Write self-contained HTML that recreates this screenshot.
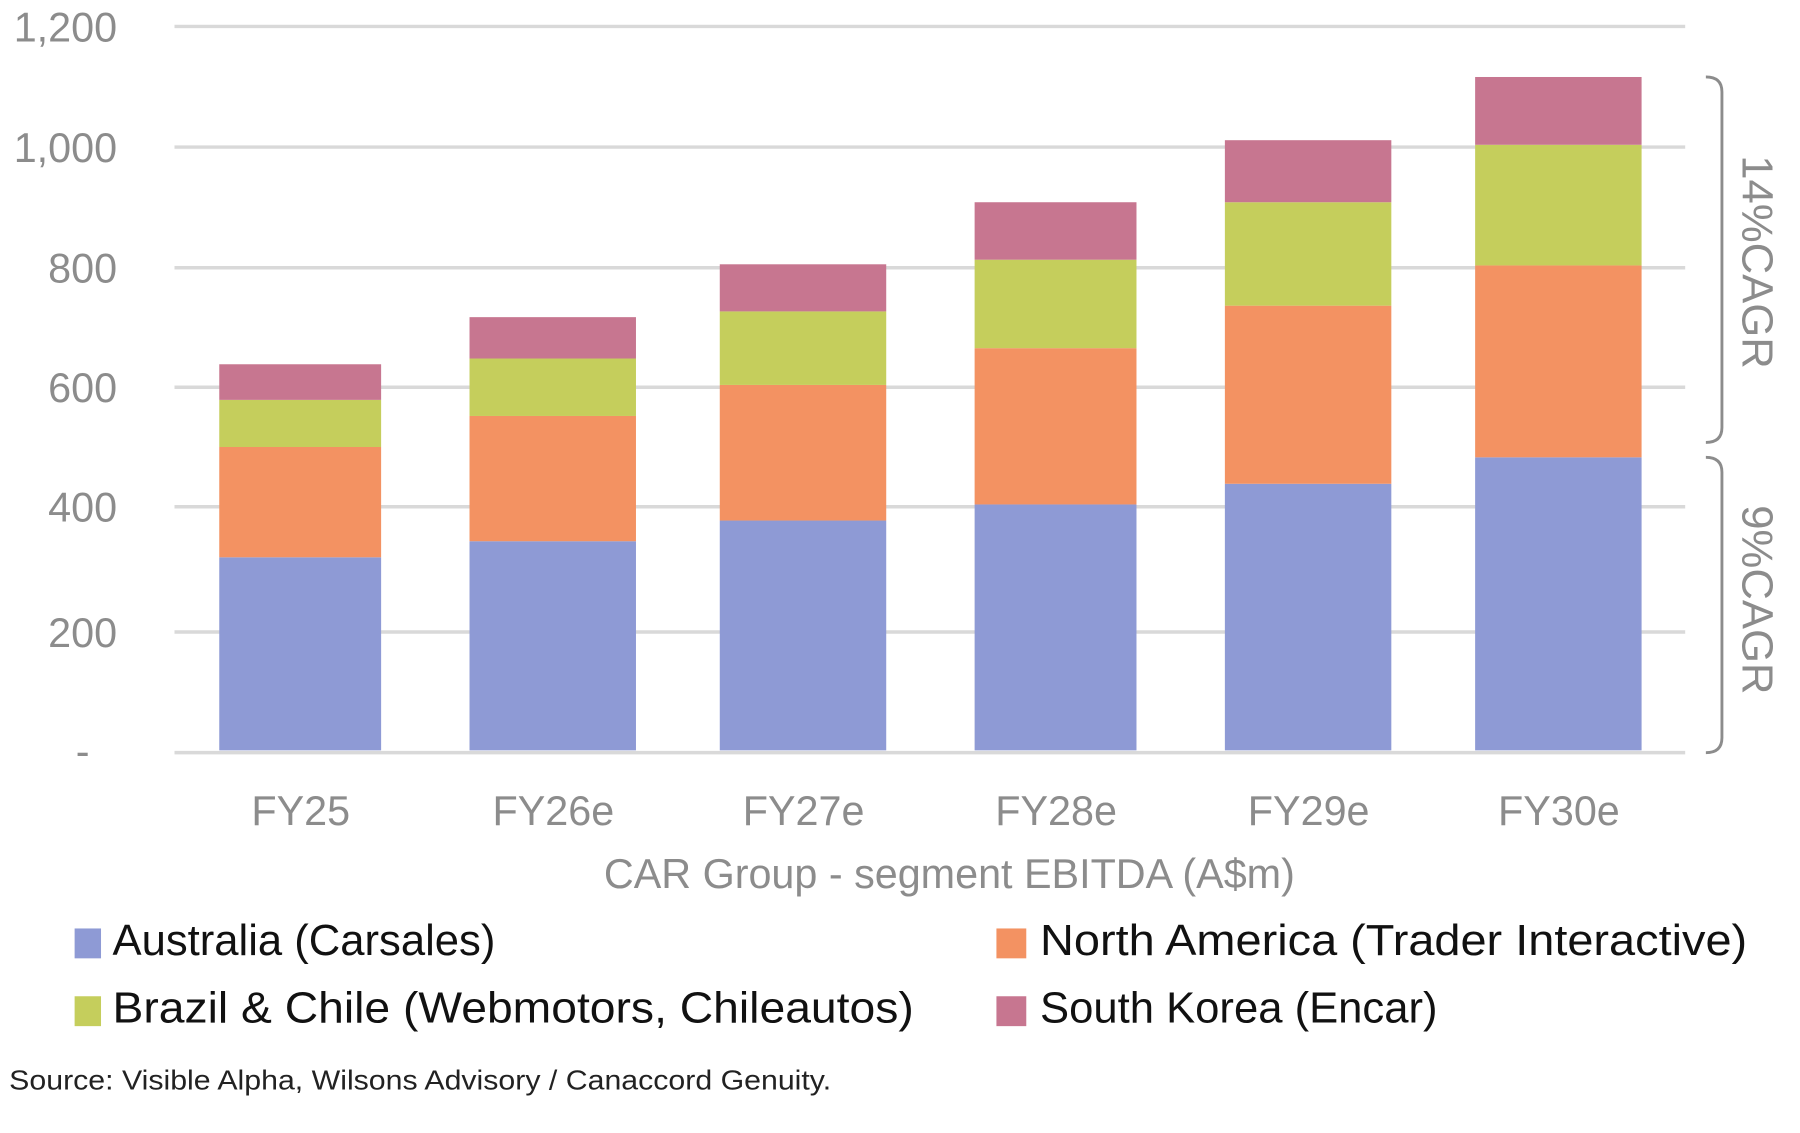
<!DOCTYPE html>
<html><head><meta charset="utf-8"><style>
html,body{margin:0;padding:0;background:#fff}
svg{display:block}
text{font-family:"Liberation Sans",sans-serif}
</style></head><body>
<svg width="1800" height="1133" viewBox="0 0 1568 986" preserveAspectRatio="none" xmlns="http://www.w3.org/2000/svg">
<g stroke="#d9d9d9" stroke-width="3">
<line x1="152" y1="23" x2="1468" y2="23"/>
<line x1="152" y1="128" x2="1468" y2="128"/>
<line x1="152" y1="233" x2="1468" y2="233"/>
<line x1="152" y1="337" x2="1468" y2="337"/>
<line x1="152" y1="441" x2="1468" y2="441"/>
<line x1="152" y1="550" x2="1468" y2="550"/>
</g>
<g fill="#8c8c8c" font-size="36" text-anchor="end">
<text x="102" y="36">1,200</text>
<text x="102" y="141">1,000</text>
<text x="102" y="246">800</text>
<text x="102" y="350">600</text>
<text x="102" y="454">400</text>
<text x="102" y="563">200</text>
<text x="78" y="666">-</text>
</g>
<g>
<rect x="191" y="485" width="141" height="168" fill="#8e9ad5"/><rect x="191" y="389" width="141" height="96" fill="#f39262"/><rect x="191" y="348" width="141" height="41" fill="#c5ce5c"/><rect x="191" y="317" width="141" height="31" fill="#c77690"/>
<rect x="409" y="471" width="145" height="182" fill="#8e9ad5"/><rect x="409" y="362" width="145" height="109" fill="#f39262"/><rect x="409" y="312" width="145" height="50" fill="#c5ce5c"/><rect x="409" y="276" width="145" height="36" fill="#c77690"/>
<rect x="627" y="453" width="145" height="200" fill="#8e9ad5"/><rect x="627" y="335" width="145" height="118" fill="#f39262"/><rect x="627" y="271" width="145" height="64" fill="#c5ce5c"/><rect x="627" y="230" width="145" height="41" fill="#c77690"/>
<rect x="849" y="439" width="141" height="214" fill="#8e9ad5"/><rect x="849" y="303" width="141" height="136" fill="#f39262"/><rect x="849" y="226" width="141" height="77" fill="#c5ce5c"/><rect x="849" y="176" width="141" height="50" fill="#c77690"/>
<rect x="1067" y="421" width="145" height="232" fill="#8e9ad5"/><rect x="1067" y="266" width="145" height="155" fill="#f39262"/><rect x="1067" y="176" width="145" height="90" fill="#c5ce5c"/><rect x="1067" y="122" width="145" height="54" fill="#c77690"/>
<rect x="1285" y="398" width="145" height="255" fill="#8e9ad5"/><rect x="1285" y="231" width="145" height="167" fill="#f39262"/><rect x="1285" y="126" width="145" height="105" fill="#c5ce5c"/><rect x="1285" y="67" width="145" height="59" fill="#c77690"/>
</g>
<line x1="152" y1="655" x2="1468" y2="655" stroke="#d9d9d9" stroke-width="3"/>
<g fill="none" stroke="#8c8c8c" stroke-width="2.5">
<path d="M1486 67 Q1500 67 1500 80 L1500 372 Q1500 385 1486 385"/>
<path d="M1486 398 Q1500 398 1500 411 L1500 642 Q1500 655 1486 655"/>
</g>
<g fill="#8c8c8c" font-size="38">
<text transform="translate(1518,228) rotate(90)" text-anchor="middle">14%CAGR</text>
<text transform="translate(1518,522) rotate(90)" text-anchor="middle">9%CAGR</text>
</g>
<g fill="#8c8c8c" font-size="36" text-anchor="middle">
<text x="262" y="718">FY25</text>
<text x="482" y="718">FY26e</text>
<text x="700" y="718">FY27e</text>
<text x="920" y="718">FY28e</text>
<text x="1140" y="718">FY29e</text>
<text x="1358" y="718">FY30e</text>
<text x="827" y="773">CAR Group - segment EBITDA (A$m)</text>
</g>
<g font-size="38" fill="#111">
<rect x="65" y="808" width="23" height="26" fill="#8e9ad5"/><text x="98" y="831">Australia (Carsales)</text>
<rect x="868" y="808" width="26" height="26" fill="#f39262"/><text x="906" y="831" textLength="616" lengthAdjust="spacingAndGlyphs">North America (Trader Interactive)</text>
<rect x="65" y="867" width="23" height="26" fill="#c5ce5c"/><text x="98" y="890" textLength="698" lengthAdjust="spacingAndGlyphs">Brazil &amp; Chile (Webmotors, Chileautos)</text>
<rect x="868" y="867" width="26" height="26" fill="#c77690"/><text x="906" y="890">South Korea (Encar)</text>
</g>
<text x="8" y="948" font-size="24" fill="#222" textLength="716" lengthAdjust="spacingAndGlyphs">Source: Visible Alpha, Wilsons Advisory / Canaccord Genuity.</text>
</svg>
</body></html>
